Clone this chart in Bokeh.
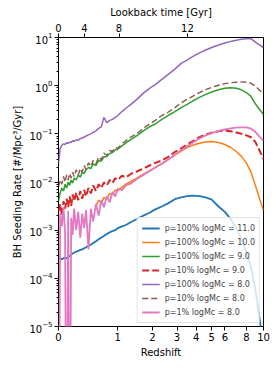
from bokeh.plotting import figure
from bokeh.models import FixedTicker, LogAxis, Legend, Range1d
from bokeh.embed import file_html
from bokeh.resources import INLINE

nan = float("nan")

# Redshift grid
redshift = [0.00, 0.02, 0.04, 0.06, 0.08, 0.10, 0.12, 0.14, 0.16, 0.18,
            0.20, 0.23, 0.26, 0.29, 0.32, 0.35, 0.38, 0.42, 0.46, 0.50,
            0.55, 0.60, 0.65, 0.70, 0.76, 0.82, 0.88, 0.94, 1.00, 1.10,
            1.20, 1.35, 1.50, 1.70, 1.90, 2.10, 2.35, 2.60, 2.90, 3.20,
            3.50, 3.80, 4.20, 4.60, 5.00, 5.50, 6.00, 6.50, 7.00, 7.50,
            8.00, 8.50, 9.00, 9.50, 10.00]

p100_m11 = [0.00025, 0.00026, 0.00025, 0.00026, 0.00027, 0.00026, 0.00028, 0.00029, 0.00031, 0.00033,
            0.00034, 0.00036, 0.00037, 0.00039, 0.00040, 0.00042, 0.00044, 0.00047, 0.00050, 0.00054,
            0.00059, 0.00065, 0.00070, 0.00076, 0.00083, 0.00090, 0.00096, 0.00100, 0.00110, 0.00120,
            0.00128, 0.00150, 0.00170, 0.00200, 0.00230, 0.00270, 0.00310, 0.00360, 0.00440, 0.00480,
            0.00510, 0.00520, 0.00510, 0.00480, 0.00430, 0.00310, 0.00240, 0.00170, 0.00110, 0.00065,
            0.00035, 0.00017, 0.00006, 0.000015, 0.000004]

p100_m10 = [nan, nan, nan, nan, nan, nan, nan, nan, nan, nan,
            nan, nan, nan, nan, nan, nan, nan, nan, nan, nan,
            0.0032, 0.0042, 0.0036, 0.0048, 0.0045, 0.0058, 0.0055, 0.0068, 0.0066, 0.0078,
            0.0090, 0.0105, 0.0120, 0.0145, 0.0170, 0.0200, 0.0240, 0.0290, 0.0360, 0.0440,
            0.0520, 0.0580, 0.0640, 0.0680, 0.0690, 0.0660, 0.0600, 0.0520, 0.0430, 0.0340,
            0.0250, 0.0160, 0.0085, 0.0045, 0.0026]

p100_m9 = [0.0040, 0.0060, 0.0075, 0.0065, 0.0090, 0.0075, 0.0100, 0.0085, 0.0110, 0.0095,
           0.0120, 0.0110, 0.0140, 0.0125, 0.0160, 0.0150, 0.0180, 0.0200, 0.0190, 0.0240,
           0.0220, 0.0280, 0.0270, 0.0330, 0.0340, 0.0390, 0.0410, 0.0460, 0.0480, 0.0560,
           0.0650, 0.0780, 0.0920, 0.1150, 0.1400, 0.1600, 0.2000, 0.2400, 0.2900, 0.3500,
           0.4100, 0.4800, 0.5700, 0.6600, 0.7400, 0.8200, 0.8800, 0.9100, 0.8800, 0.8200,
           0.7200, 0.6000, 0.4200, 0.3200, 0.2500]

p10_m9 = [0.0025, 0.0035, 0.0020, 0.0040, 0.0028, 0.0045, 0.0030, 0.0050, 0.0032, 0.0055,
          0.0040, 0.0060, 0.0042, 0.0065, 0.0045, 0.0068, 0.0050, 0.0075, 0.0058, 0.0085,
          0.0065, 0.0090, 0.0075, 0.0098, 0.0085, 0.0110, 0.0095, 0.0120, 0.0110, 0.0135,
          0.0125, 0.0150, 0.0165, 0.0190, 0.0220, 0.0250, 0.0280, 0.0330, 0.0420, 0.0500,
          0.0600, 0.0700, 0.0850, 0.0970, 0.1050, 0.1130, 0.1170, 0.1130, 0.1070, 0.1000,
          0.0930, 0.0850, 0.0680, 0.0450, 0.0300]

p100_m8 = [0.025, 0.050, 0.058, 0.062, 0.060, 0.066, 0.063, 0.068, 0.066, 0.072,
           0.070, 0.075, 0.073, 0.080, 0.082, 0.086, 0.090, 0.095, 0.100, 0.107,
           0.115, 0.130, 0.140, 0.220, 0.170, 0.190, 0.200, 0.220, 0.240, 0.290,
           0.340, 0.420, 0.520, 0.700, 0.880, 1.050, 1.350, 1.700, 2.200, 2.900,
           3.400, 4.000, 4.800, 5.500, 6.200, 7.000, 7.700, 8.300, 8.800, 9.200,
           9.400, 9.500, 8.000, 7.000, 6.200]

p10_m8 = [0.008, 0.011, 0.009, 0.013, 0.010, 0.014, 0.011, 0.015, 0.012, 0.016,
          0.013, 0.018, 0.014, 0.019, 0.016, 0.022, 0.018, 0.025, 0.021, 0.028,
          0.024, 0.033, 0.029, 0.040, 0.036, 0.045, 0.043, 0.052, 0.050, 0.062,
          0.072, 0.088, 0.100, 0.130, 0.160, 0.190, 0.240, 0.280, 0.350, 0.440,
          0.520, 0.600, 0.720, 0.830, 0.920, 1.020, 1.100, 1.150, 1.180, 1.200,
          1.180, 1.120, 0.980, 0.800, 0.700]

p1_m8 = [0.0, 0.0022, 0.0012, 0.0030, 0.0009, 0.0, 0.0025, 0.0, 0.0018, 0.0008,
         0.0028, 0.0010, 0.0024, 0.0007, 0.0022, 0.0011, 0.0026, 0.0004, 0.0028, 0.0015,
         0.0035, 0.0020, 0.0042, 0.0030, 0.0050, 0.0038, 0.0062, 0.0050, 0.0072, 0.0068,
         0.0085, 0.0095, 0.0115, 0.0140, 0.0170, 0.0200, 0.0240, 0.0290, 0.0370, 0.0460,
         0.0550, 0.0650, 0.0800, 0.0930, 0.1030, 0.1150, 0.1230, 0.1300, 0.1340, 0.1360,
         0.1360, 0.1280, 0.1100, 0.0880, 0.0720]

labels = ["p=100% logMc = 11.0", "p=100% logMc = 10.0", "p=100% logMc = 9.0",
          "p=10% logMc = 9.0", "p=100% logMc = 8.0", "p=10% logMc = 8.0",
          "p=1% logMc = 8.0"]
series = [p100_m11, p100_m10, p100_m9, p10_m9, p100_m8, p10_m8, p1_m8]
colors = ["#1f77b4", "#ff7f0e", "#2ca02c", "#d62728", "#9467bd", "#8c564b", "#e377c2"]
dashes = ["solid", "solid", "solid", "7 3", "solid", "6 3", "solid"]
widths = [1.8, 1.5, 1.5, 2.0, 1.5, 1.4, 1.8]

x_ticks_z = [0, 1, 2, 3, 4, 5, 6, 8, 10]
lookback_ticks_gyr = ["0", "4", "8", "12"]
lookback_ticks_z = [0.0, 0.355, 1.03, 3.52]

FONT = "DejaVu Sans"

p = figure(width=270, height=360, x_axis_type="log", y_axis_type="log",
           x_range=Range1d(1, 11), y_range=Range1d(1e-5, 10),
           output_backend="svg", toolbar_location=None,
           min_border_left=58, min_border_right=7, min_border_top=37,
           min_border_bottom=33)
p.xgrid.visible = False
p.ygrid.visible = False
p.outline_line_color = "black"
p.outline_line_alpha = 1.0
p.outline_line_width = 1

xs = [1.0 + zz for zz in redshift]
renderers = []
for ys, c, d, w in zip(series, colors, dashes, widths):
    yy = [v if (v != v) or v > 0 else 1e-9 for v in ys]  # clip zeros below axis like matplotlib
    r = p.line(xs, yy, line_color=c, line_width=w, line_dash=d)
    renderers.append(r)

# bottom axis (redshift)
xa = p.xaxis[0]
xa.ticker = FixedTicker(ticks=[1.0 + t for t in x_ticks_z], minor_ticks=[])
xa.major_label_overrides = {1.0 + t: str(t) for t in x_ticks_z}
xa.axis_label = "Redshift"

# top axis (lookback time)
top = LogAxis(ticker=FixedTicker(ticks=[1.0 + t for t in lookback_ticks_z], minor_ticks=[]),
              major_label_overrides={1.0 + t: s for t, s in zip(lookback_ticks_z, lookback_ticks_gyr)},
              axis_label="Lookback time [Gyr]")
p.add_layout(top, "above")

# y axis
ya = p.yaxis[0]
ymaj = [10.0 ** k for k in range(-5, 2)]
ymin = [m * 10.0 ** k for k in range(-5, 1) for m in range(2, 10)]
ya.ticker = FixedTicker(ticks=ymaj, minor_ticks=ymin)
ya.axis_label = "BH Seeding Rate [#/Mpc³/Gyr]"

for ax in [xa, top, ya]:
    ax.axis_line_color = None
    ax.major_tick_line_color = "black"
    ax.minor_tick_line_color = "black"
    ax.major_tick_in = 0
    ax.major_tick_out = 4
    ax.minor_tick_in = 0
    ax.minor_tick_out = 2
    ax.major_label_text_font = FONT
    ax.major_label_text_font_size = "10px"
    ax.major_label_text_color = "black"
    ax.axis_label_text_font = FONT
    ax.axis_label_text_font_size = "10px"
    ax.axis_label_text_font_style = "normal"
    ax.axis_label_text_color = "black"
    ax.major_label_standoff = 2
    ax.axis_label_standoff = 3

legend = Legend(items=[(lab, [r]) for lab, r in zip(labels, renderers)],
                location="bottom_right")
legend.label_text_font = FONT
legend.label_text_font_size = "8px"
legend.label_height = 12
legend.glyph_height = 12
legend.glyph_width = 18
legend.spacing = 2
legend.padding = 4
legend.margin = 3
legend.label_standoff = 5
legend.border_line_color = "#cccccc"
legend.border_line_width = 1
legend.background_fill_color = "white"
legend.background_fill_alpha = 0.8
p.add_layout(legend)

open("out.html", "w").write(file_html(p, INLINE))
